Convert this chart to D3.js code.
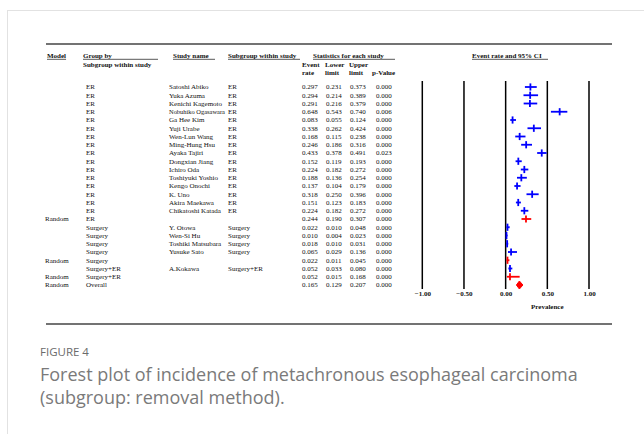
<!DOCTYPE html>
<html>
<head>
<meta charset="utf-8">
<script src="https://cdn.jsdelivr.net/npm/d3@7"></script>
<style>
  html, body { margin: 0; padding: 0; background: #fff; }
  svg { display: block; }
  .t { font-family: "Liberation Serif", "Times New Roman", serif; font-size: 7px; fill: #111; }
  .b { font-weight: bold; }
  .cap { font-family: "Open Sans", sans-serif; }
</style>
</head>
<body>
<svg id="chart"></svg>
<script>
// Table values
const models = ["", "", "", "", "", "", "", "", "", "", "", "", "", "", "", "", "Random",
  "", "", "", "", "Random", "", "Random", "Random"];
const groups = ["ER", "ER", "ER", "ER", "ER", "ER", "ER", "ER", "ER", "ER", "ER", "ER", "ER", "ER", "ER", "ER", "ER",
  "Surgery", "Surgery", "Surgery", "Surgery", "Surgery", "Surgery+ER", "Surgery+ER", "Overall"];
const studies = ["Satoshi Abiko", "Yuka Azuma", "Kenichi Kagemoto", "Nobuhiko Ogasawara", "Ga Hee Kim",
  "Yuji Urabe", "Wen-Lun Wang", "Ming-Hung Hsu", "Ayaka Tajiri", "Dongxian Jiang", "Ichiro Oda",
  "Toshiyuki Yoshio", "Kengo Onochi", "K. Uno", "Akira Maekawa", "Chikatoshi Katada", "",
  "Y. Otowa", "Wen-Si Hu", "Toshiki Matsubara", "Yusuke Sato", "", "A.Kokawa", "", ""];
const subgroups = ["ER", "ER", "ER", "ER", "ER", "ER", "ER", "ER", "ER", "ER", "ER", "ER", "ER", "ER", "ER", "ER", "",
  "Surgery", "Surgery", "Surgery", "Surgery", "", "Surgery+ER", "", ""];
const rates = [0.297, 0.294, 0.291, 0.648, 0.083, 0.338, 0.168, 0.246, 0.433, 0.152, 0.224, 0.188, 0.137,
  0.318, 0.151, 0.224, 0.244, 0.022, 0.010, 0.018, 0.065, 0.022, 0.052, 0.052, 0.165];
const lowers = [0.231, 0.214, 0.216, 0.543, 0.055, 0.262, 0.115, 0.186, 0.378, 0.119, 0.182, 0.136, 0.104,
  0.250, 0.123, 0.182, 0.190, 0.010, 0.004, 0.010, 0.029, 0.011, 0.033, 0.015, 0.129];
const uppers = [0.373, 0.389, 0.379, 0.740, 0.124, 0.424, 0.238, 0.316, 0.491, 0.193, 0.272, 0.254, 0.179,
  0.396, 0.183, 0.272, 0.307, 0.048, 0.023, 0.031, 0.136, 0.045, 0.080, 0.168, 0.207];
const pvalues = [0.000, 0.000, 0.000, 0.006, 0.000, 0.000, 0.000, 0.000, 0.023, 0.000, 0.000, 0.000, 0.000,
  0.000, 0.000, 0.000, 0.000, 0.000, 0.000, 0.000, 0.000, 0.000, 0.000, 0.000, 0.000];
// "study", "summary" or "overall"
const rowKinds = ["study", "study", "study", "study", "study", "study", "study", "study", "study", "study",
  "study", "study", "study", "study", "study", "study", "summary", "study", "study", "study", "study",
  "summary", "study", "summary", "overall"];
const xTicks = [-1, -0.5, 0, 0.5, 1];

const width = 644;
const height = 434;

const svg = d3.select("#chart").attr("width", width).attr("height", height);

// page frame
svg.append("line").attr("x1", 7).attr("x2", width).attr("y1", 10.5).attr("y2", 10.5)
  .attr("stroke", "#e2e2e2").attr("stroke-width", 1);
svg.append("line").attr("x1", 7.5).attr("x2", 7.5).attr("y1", 10).attr("y2", height)
  .attr("stroke", "#e2e2e2").attr("stroke-width", 1);

// rules above and below the table
[44, 324].forEach(y => {
  svg.append("line").attr("x1", 46).attr("x2", 612).attr("y1", y).attr("y2", y)
    .attr("stroke", "#444").attr("stroke-width", 1.6);
});

const rows = d3.range(studies.length);
const y = d3.scalePoint().domain(rows).range([87, 285]);
const x = d3.scaleLinear().domain([-1, 1]).range([422.3, 589]);

const col = { model: 45, group: 86, study: 169, sub: 228, rate: 302, lower: 326, upper: 350, p: 376 };

// headers with underline
function header(txt, xp, yp, underlineTo) {
  const t = svg.append("text").attr("class", "t b").attr("x", xp).attr("y", yp).text(txt);
  const w = t.node().getComputedTextLength();
  const x2 = underlineTo || xp + w;
  svg.append("line").attr("x1", xp).attr("x2", x2).attr("y1", yp + 1.3).attr("y2", yp + 1.3)
    .attr("stroke", "#111").attr("stroke-width", 0.7);
}
header("Model", 47, 58);
header("Group by", 83, 58, 158);
header("Study name", 173, 58, 215);
header("Subgroup within study", 228, 58, 300);
header("Statistics for each study", 313, 58, 395);
header("Event rate and 95% CI", 472, 58, 548);

svg.append("text").attr("class", "t b").attr("x", 83).attr("y", 66.5).text("Subgroup within study");

const sub1 = [["Event", col.rate], ["Lower", col.lower - 1], ["Upper", col.upper - 1]];
const sub2 = [["rate", col.rate], ["limit", col.lower - 1], ["limit", col.upper - 1], ["p-Value", col.p - 4]];
sub1.forEach(d => svg.append("text").attr("class", "t b").attr("x", d[1]).attr("y", 67).text(d[0]));
sub2.forEach(d => svg.append("text").attr("class", "t b").attr("x", d[1]).attr("y", 74.5).text(d[0]));

// table body
const fmt = d3.format(".3f");
const body = svg.append("g");
const rowG = body.selectAll("g.row").data(rows).enter().append("g")
  .attr("class", "row")
  .attr("transform", i => `translate(0,${y(i) + 2.4})`);

rowG.append("text").attr("class", "t").attr("x", col.model).text(i => models[i]);
rowG.append("text").attr("class", "t").attr("x", col.group).text(i => groups[i]);
// long names run right up to the next column, as in the figure: shrink them a bit
const maxName = col.sub - col.study - 3;
rowG.append("text").attr("class", "t").attr("x", col.study).text(i => studies[i])
  .each(function () {
    const w = this.getComputedTextLength();
    if (w > maxName) {
      d3.select(this).style("font-size", (7 * maxName / w).toFixed(2) + "px");
    }
  });
rowG.append("text").attr("class", "t").attr("x", col.sub).text(i => subgroups[i]);
rowG.append("text").attr("class", "t").attr("x", col.rate).text(i => fmt(rates[i]));
rowG.append("text").attr("class", "t").attr("x", col.lower).text(i => fmt(lowers[i]));
rowG.append("text").attr("class", "t").attr("x", col.upper).text(i => fmt(uppers[i]));
rowG.append("text").attr("class", "t").attr("x", col.p).text(i => fmt(pvalues[i]));

// reference lines
svg.append("g").selectAll("line").data(xTicks).enter().append("line")
  .attr("x1", d => x(d)).attr("x2", d => x(d))
  .attr("y1", 81).attr("y2", 289)
  .attr("stroke", "#000").attr("stroke-width", 1.5);

// x axis labels
const axis = d3.axisBottom(x).tickValues(xTicks).tickFormat(d3.format(".2f")).tickSize(0).tickPadding(0);
const axG = svg.append("g").attr("transform", "translate(0,291)").call(axis);
axG.select(".domain").remove();
axG.selectAll("text").attr("class", "t b").attr("fill", "#111")
  .style("font-family", "Liberation Serif").style("font-size", "7px").style("font-weight", "bold");

svg.append("text").attr("class", "t b").attr("x", x(0.5)).attr("y", 309)
  .attr("text-anchor", "middle").text("Prevalence");

// crosses for studies and subgroup summaries
const marks = svg.append("g");
const crossRows = rows.filter(i => rowKinds[i] !== "overall");
const colorOf = i => rowKinds[i] === "study" ? "#0000ff" : "#ff0000";

marks.selectAll("line.ci").data(crossRows).enter().append("line")
  .attr("class", "ci")
  .attr("x1", i => x(lowers[i])).attr("x2", i => x(uppers[i]))
  .attr("y1", i => y(i)).attr("y2", i => y(i))
  .attr("stroke", colorOf).attr("stroke-width", 1.8);

marks.selectAll("line.pt").data(crossRows).enter().append("line")
  .attr("class", "pt")
  .attr("x1", i => x(rates[i])).attr("x2", i => x(rates[i]))
  .attr("y1", i => y(i) - 3.6).attr("y2", i => y(i) + 3.6)
  .attr("stroke", colorOf).attr("stroke-width", 1.8);

// overall diamond
const overallRows = rows.filter(i => rowKinds[i] === "overall");
marks.selectAll("path.dia").data(overallRows).enter().append("path")
  .attr("class", "dia")
  .attr("d", i => {
    const cy = y(i);
    return `M${x(lowers[i])},${cy}L${x(rates[i])},${cy - 4}L${x(uppers[i])},${cy}L${x(rates[i])},${cy + 4}Z`;
  })
  .attr("fill", "#ff0000").attr("stroke", "#ff0000").attr("stroke-width", 1).attr("stroke-linejoin", "round");

// caption
svg.append("text").attr("class", "cap").attr("x", 40).attr("y", 356)
  .style("font-size", "11.5px").attr("fill", "#6b6b6b").text("FIGURE 4");
svg.append("text").attr("class", "cap").attr("x", 40).attr("y", 381)
  .style("font-size", "18px").attr("fill", "#7a7a7a")
  .text("Forest plot of incidence of metachronous esophageal carcinoma");
svg.append("text").attr("class", "cap").attr("x", 40).attr("y", 403.5)
  .style("font-size", "18px").attr("fill", "#7a7a7a")
  .text("(subgroup: removal method).");
</script>
</body>
</html>
